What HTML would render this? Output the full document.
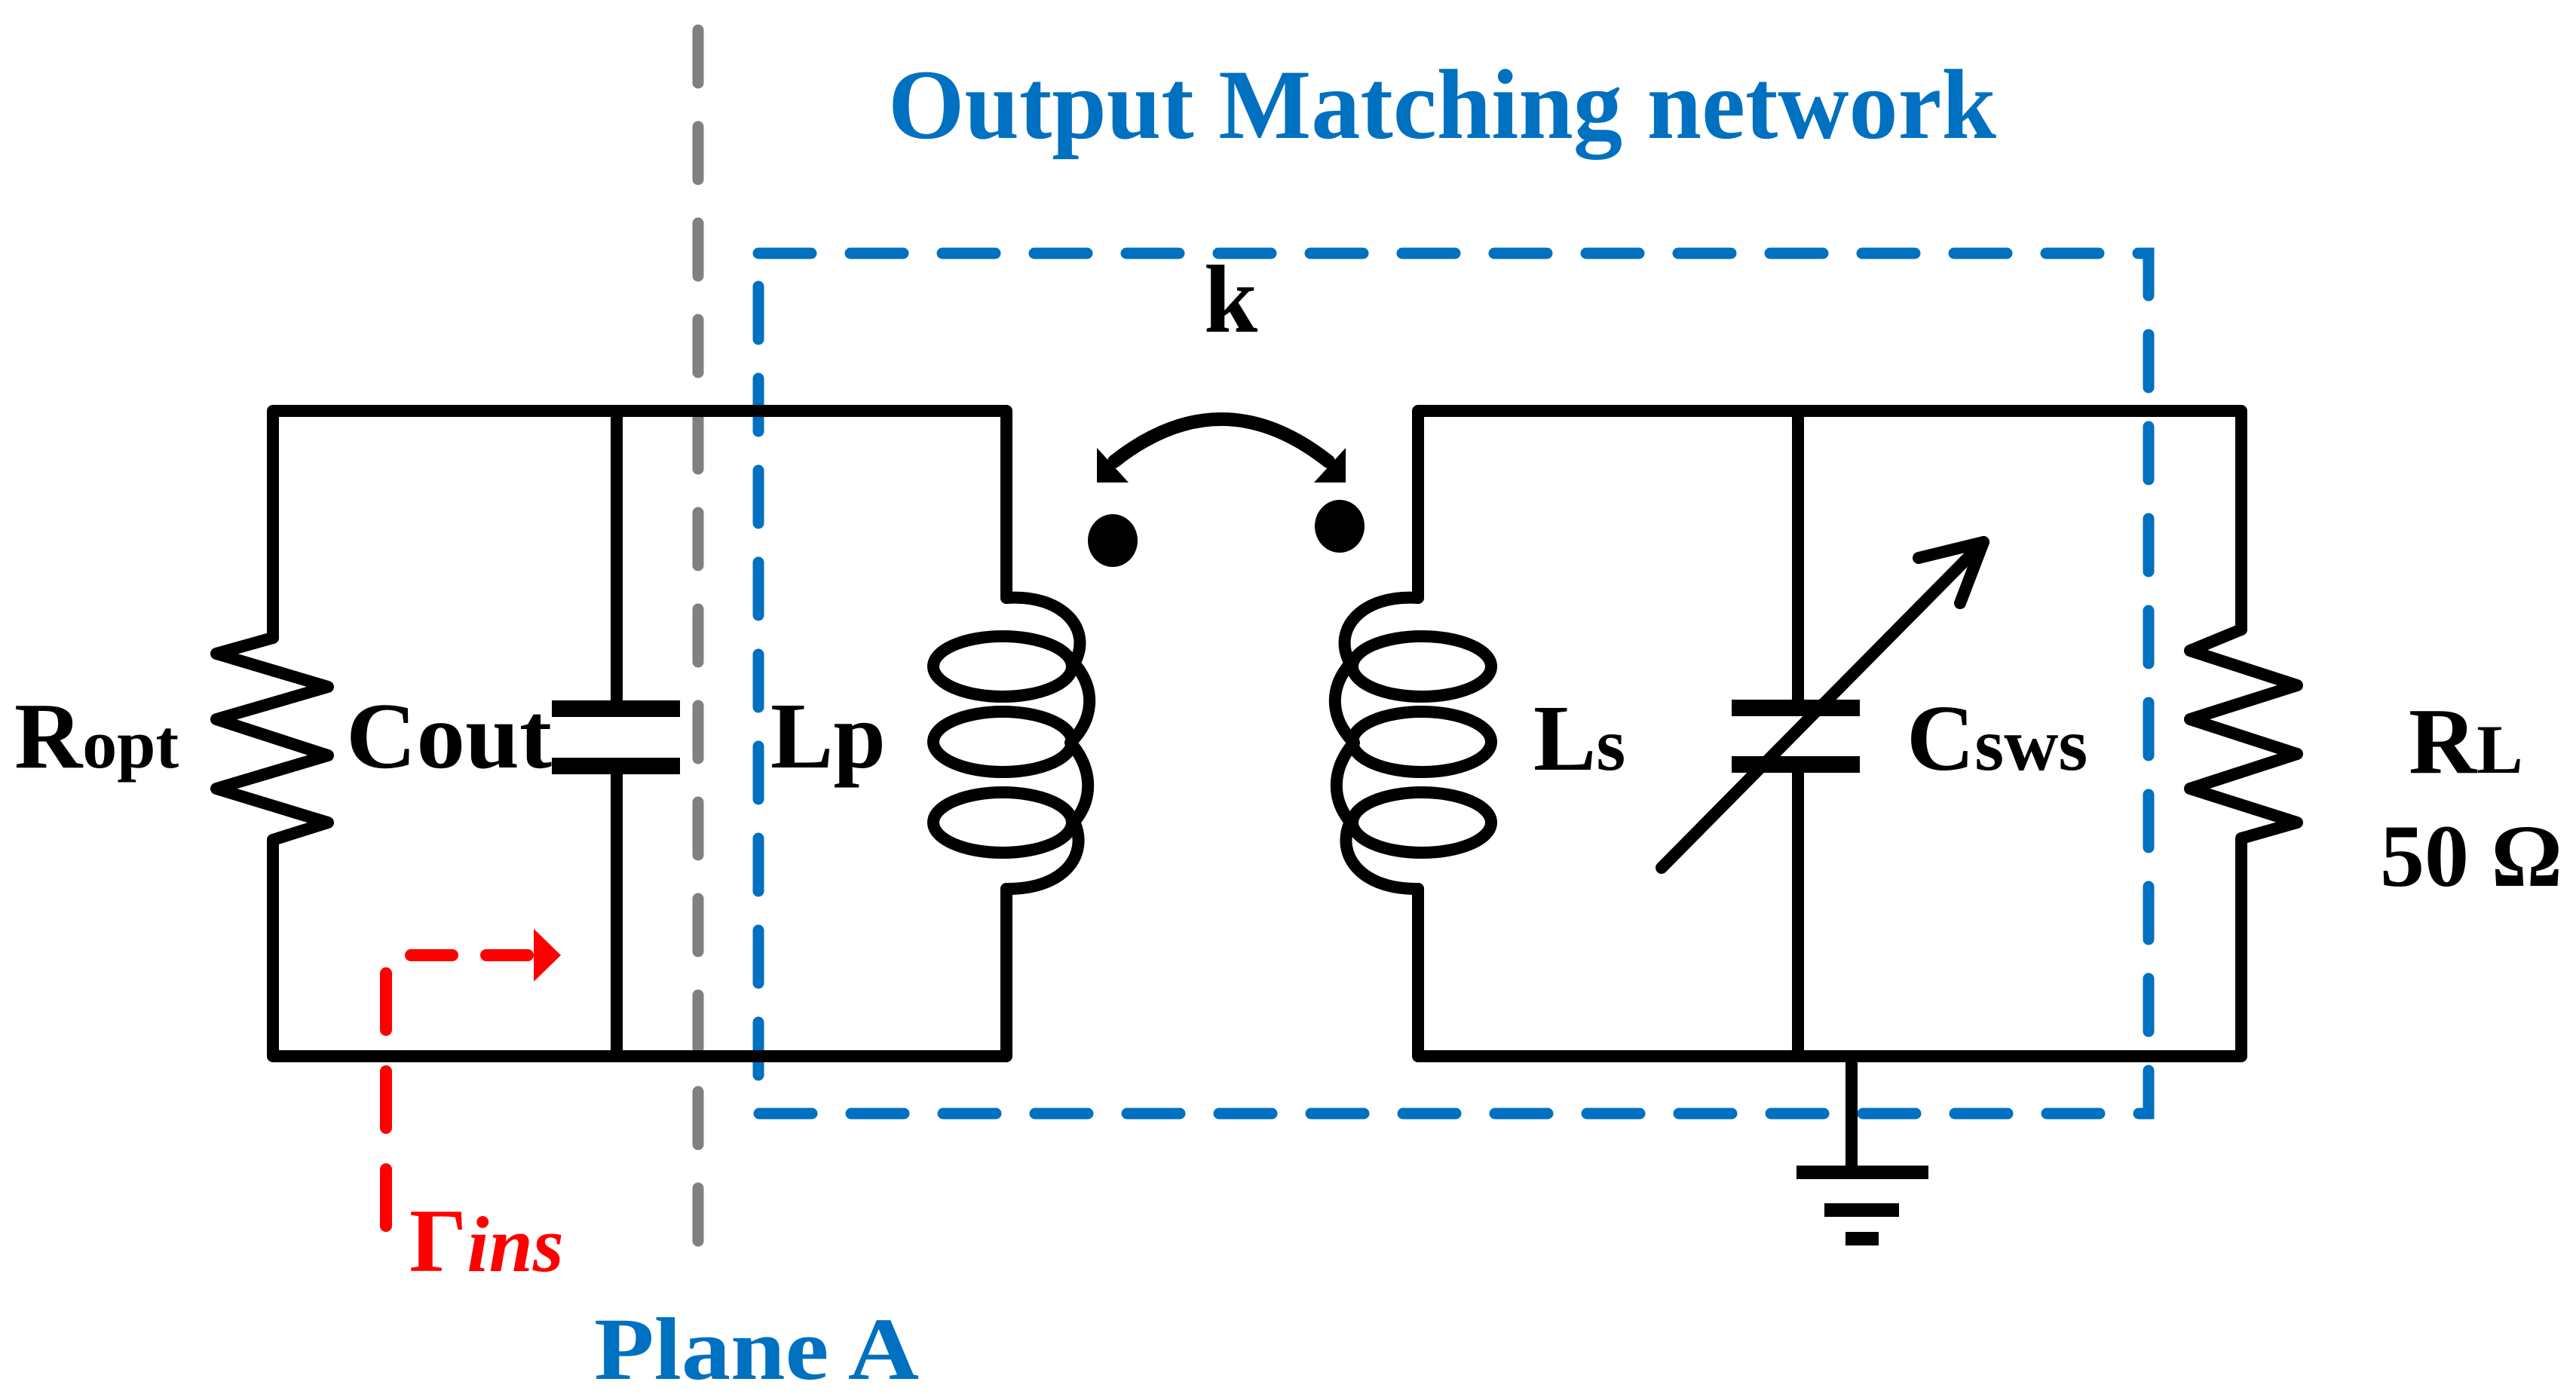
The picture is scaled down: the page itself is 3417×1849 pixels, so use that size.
<!DOCTYPE html>
<html><head><meta charset="utf-8"><style>
html,body{margin:0;padding:0;background:#fff;}
svg{display:block;}
text{font-family:"Liberation Serif",serif;font-weight:bold;}
</style></head><body>
<svg width="3417" height="1849" viewBox="0 0 3417 1849" xmlns="http://www.w3.org/2000/svg">
<!-- gray plane line -->
<line x1="926" y1="40" x2="926" y2="1680" stroke="#808080" stroke-width="15" stroke-linecap="round" stroke-dasharray="70,58"/>
<!-- blue box -->
<path d="M1006,336 L2850,336 L2850,1477 L1006,1477 Z" fill="none" stroke="#0070C0" stroke-width="15" stroke-linecap="round" stroke-dasharray="70,52"/>

<g stroke="#000" stroke-width="16" fill="none" stroke-linejoin="round" stroke-linecap="round">
<!-- left circuit -->
<path d="M362,846 L362,545 L1335,545 L1335,793"/>
<path d="M1335,1179 L1335,1401 L362,1401 L362,1114"/>
<path d="M362,846 L287,867 L435,911 L287,954 L435,1002 L287,1046 L435,1091 L362,1114"/>
<line x1="818" y1="545" x2="818" y2="940"/>
<line x1="818" y1="1016" x2="818" y2="1401"/>
<!-- Lp coil -->
<g id="coil">
<path d="M1335,793 C1410,788 1450,835 1425,880 C1455,915 1450,955 1420,985 C1450,1020 1450,1060 1425,1090 C1445,1135 1410,1180 1335,1179"/>
<ellipse cx="1330" cy="884" rx="92" ry="40"/>
<ellipse cx="1330" cy="984" rx="92" ry="40"/>
<ellipse cx="1330" cy="1091" rx="92" ry="40"/>
</g>
<use href="#coil" transform="translate(3216,0) scale(-1,1)"/>
<!-- right circuit -->
<path d="M1881,793 L1881,545 L2973,545 L2973,835"/>
<path d="M1881,1179 L1881,1401 L2973,1401 L2973,1112"/>
<path d="M2973,835 L2905,863 L3047,909 L2905,954 L3047,1000 L2905,1046 L3047,1091 L2973,1112"/>
<line x1="2385" y1="545" x2="2385" y2="939"/>
<line x1="2385" y1="1014" x2="2385" y2="1401"/>
<!-- ground -->
<line x1="2456" y1="1401" x2="2456" y2="1555"/>
<!-- variable arrow -->
<line x1="2204" y1="1151" x2="2631" y2="719"/>
<path d="M2545,740 L2631,719 L2600,800"/>
<!-- coupling arc -->
<path d="M1478,612 Q1620,500 1762,612" stroke-width="18"/>
</g>
<path d="M1455,640 L1455,594 L1497,640 Z" fill="#000"/>
<path d="M1785,640 L1785,594 L1743,640 Z" fill="#000"/>
<!-- capacitor plates -->
<rect x="732" y="929" width="170" height="22" fill="#000"/>
<rect x="732" y="1005" width="170" height="22" fill="#000"/>
<rect x="2297" y="928" width="170" height="22" fill="#000"/>
<rect x="2297" y="1003" width="170" height="22" fill="#000"/>
<!-- ground bars -->
<rect x="2383" y="1546" width="175" height="18" fill="#000"/>
<rect x="2420" y="1596" width="99" height="18" fill="#000"/>
<rect x="2448" y="1634" width="44" height="18" fill="#000"/>
<!-- dots -->
<ellipse cx="1476" cy="717" rx="33" ry="35" fill="#000"/>
<ellipse cx="1777" cy="698" rx="33" ry="35" fill="#000"/>

<!-- red gamma arrow -->
<g stroke="#FF0000" stroke-width="16" stroke-linecap="round" fill="none">
<line x1="512" y1="1291" x2="512" y2="1630" stroke-dasharray="75,55"/>
<line x1="545" y1="1267" x2="710" y2="1267" stroke-dasharray="55,45"/>
</g>
<path d="M708,1232 L744,1267 L708,1302 Z" fill="#FF0000"/>

<!-- texts -->
<text x="1178" y="183" font-size="132" fill="#0070C0" textLength="1470" lengthAdjust="spacingAndGlyphs">Output Matching network</text>
<text x="1597" y="440" font-size="128" fill="#000">k</text>
<text x="19" y="1018" font-size="125" fill="#000">R<tspan font-size="92">opt</tspan></text>
<text x="459" y="1018" font-size="125" fill="#000" textLength="273" lengthAdjust="spacingAndGlyphs">Cout</text>
<text x="1022" y="1018" font-size="125" fill="#000">Lp</text>
<text x="2034" y="1021" font-size="125" fill="#000">L<tspan font-size="100">s</tspan></text>
<text x="2529" y="1021" font-size="125" fill="#000">C<tspan font-size="100">sws</tspan></text>
<text x="3195" y="1025" font-size="125" fill="#000">R<tspan font-size="92">L</tspan></text>
<text x="3157" y="1175" font-size="118" fill="#000">50 Ω</text>
<text x="543" y="1686" font-size="120" fill="#FF0000">Γ<tspan font-style="italic" font-size="105">ins</tspan></text>
<text x="788" y="1829" font-size="118" fill="#0070C0" textLength="431" lengthAdjust="spacingAndGlyphs">Plane A</text>
</svg>
</body></html>
